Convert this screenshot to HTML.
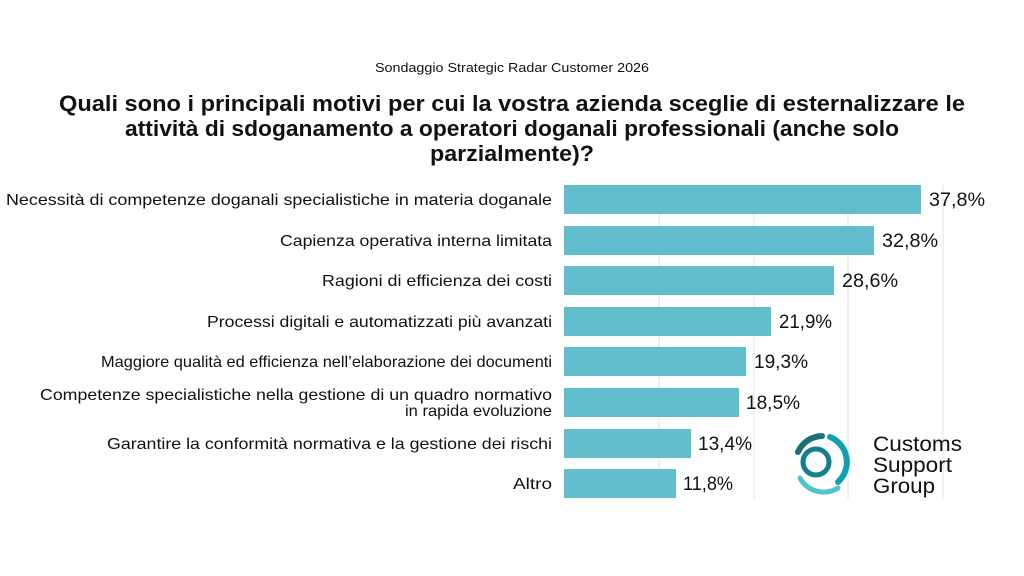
<!DOCTYPE html>
<html><head><meta charset="utf-8"><style>
html,body{margin:0;padding:0;background:#fff}
svg{display:block}
text{font-family:"Liberation Sans",sans-serif;fill:#111}
</style></head><body>
<svg width="1024" height="576" viewBox="0 0 1024 576" xmlns="http://www.w3.org/2000/svg">
<rect width="1024" height="576" fill="#fff"/>
<text x="512" y="72" text-anchor="middle" font-size="13" textLength="274" lengthAdjust="spacingAndGlyphs">Sondaggio Strategic Radar Customer 2026</text>
<g font-size="22" text-anchor="middle" font-weight="bold">
<text x="512" y="111" textLength="906" lengthAdjust="spacingAndGlyphs">Quali sono i principali motivi per cui la vostra azienda sceglie di esternalizzare le</text>
<text x="512" y="136" textLength="774" lengthAdjust="spacingAndGlyphs">attività di sdoganamento a operatori doganali professionali (anche solo</text>
<text x="512" y="161" textLength="164" lengthAdjust="spacingAndGlyphs">parzialmente)?</text>
</g>
<g stroke="#e2e2e2" stroke-width="1">
<line x1="659" y1="185" x2="659" y2="499"/>
<line x1="754" y1="185" x2="754" y2="499"/>
<line x1="848" y1="185" x2="848" y2="499"/>
<line x1="943" y1="185" x2="943" y2="499"/>
</g>
<g fill="#62bdcc">
<rect x="564" y="185" width="357" height="29"/>
<rect x="564" y="226" width="310" height="29"/>
<rect x="564" y="266" width="270" height="29"/>
<rect x="564" y="307" width="207" height="29"/>
<rect x="564" y="347" width="182" height="29"/>
<rect x="564" y="388" width="175" height="29"/>
<rect x="564" y="429" width="127" height="29"/>
<rect x="564" y="469" width="112" height="29"/>
</g>
<g font-size="16" text-anchor="end" lengthAdjust="spacingAndGlyphs">
<text x="552" y="205" textLength="546" lengthAdjust="spacingAndGlyphs">Necessità di competenze doganali specialistiche in materia doganale</text>
<text x="552" y="246" textLength="272" lengthAdjust="spacingAndGlyphs">Capienza operativa interna limitata</text>
<text x="552" y="286" textLength="230" lengthAdjust="spacingAndGlyphs">Ragioni di efficienza dei costi</text>
<text x="552" y="327" textLength="345" lengthAdjust="spacingAndGlyphs">Processi digitali e automatizzati più avanzati</text>
<text x="552" y="367" textLength="451" lengthAdjust="spacingAndGlyphs">Maggiore qualità ed efficienza nell’elaborazione dei documenti</text>
<text x="552" y="400" textLength="512" lengthAdjust="spacingAndGlyphs">Competenze specialistiche nella gestione di un quadro normativo</text>
<text x="552" y="416" textLength="147" lengthAdjust="spacingAndGlyphs">in rapida evoluzione</text>
<text x="552" y="449" textLength="445" lengthAdjust="spacingAndGlyphs">Garantire la conformità normativa e la gestione dei rischi</text>
<text x="552" y="489" textLength="39" lengthAdjust="spacingAndGlyphs">Altro</text>
</g>
<g font-size="19">
<text x="929" y="206" textLength="56" lengthAdjust="spacingAndGlyphs">37,8%</text>
<text x="882" y="247" textLength="56" lengthAdjust="spacingAndGlyphs">32,8%</text>
<text x="842" y="287" textLength="56" lengthAdjust="spacingAndGlyphs">28,6%</text>
<text x="779" y="328" textLength="53" lengthAdjust="spacingAndGlyphs">21,9%</text>
<text x="754" y="368" textLength="54" lengthAdjust="spacingAndGlyphs">19,3%</text>
<text x="746" y="409" textLength="54" lengthAdjust="spacingAndGlyphs">18,5%</text>
<text x="698" y="450" textLength="54" lengthAdjust="spacingAndGlyphs">13,4%</text>
<text x="683" y="490" textLength="50" lengthAdjust="spacingAndGlyphs">11,8%</text>
</g>
<g fill="none" stroke-linecap="round">
<path d="M830 437 A27 27 0 0 1 838 482" stroke="#0f9fb3" stroke-width="6"/>
<path d="M800 478 A27 27 0 0 0 838 488" stroke="#4fc3cf" stroke-width="5"/>
<path d="M798 452 A27 27 0 0 1 822 436" stroke="#1a6f7a" stroke-width="6"/>
<circle cx="816" cy="462" r="13" stroke="#127f8d" stroke-width="5"/>
</g>
<g font-size="21">
<text x="873" y="451" textLength="89" lengthAdjust="spacingAndGlyphs">Customs</text>
<text x="873" y="472" textLength="79" lengthAdjust="spacingAndGlyphs">Support</text>
<text x="873" y="493" textLength="62" lengthAdjust="spacingAndGlyphs">Group</text>
</g>
</svg>
</body></html>
